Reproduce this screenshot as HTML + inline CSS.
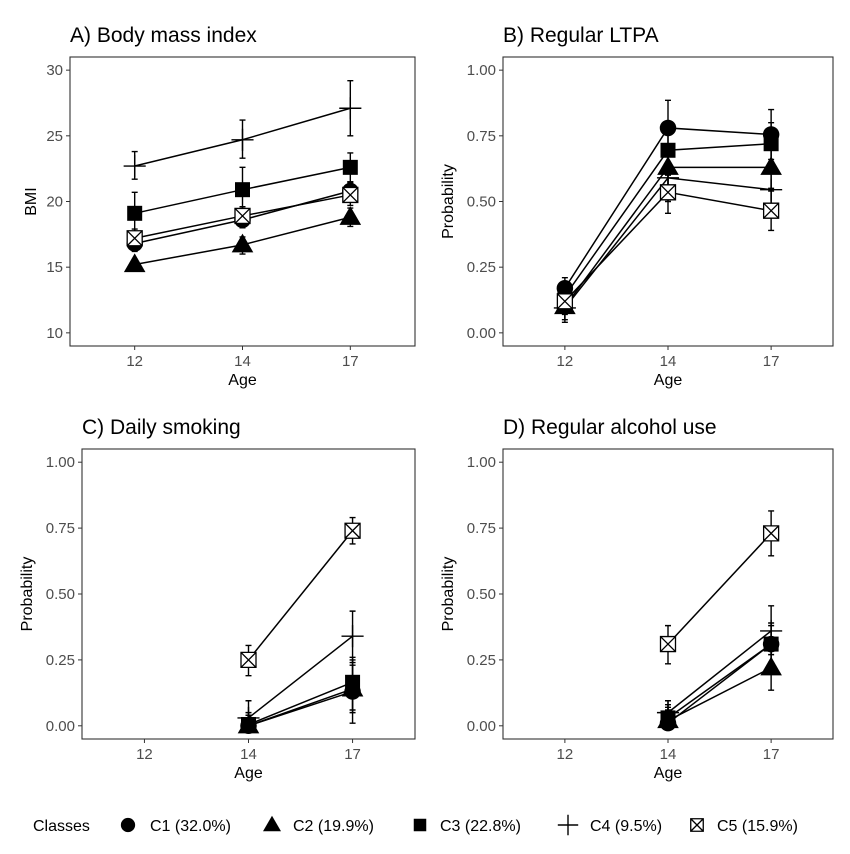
<!DOCTYPE html>
<html><head><meta charset="utf-8">
<style>
html,body{margin:0;padding:0;background:#fff;}
svg{display:block;font-family:"Liberation Sans",sans-serif;}
</style></head>
<body>
<svg id="chart" width="850" height="854" viewBox="0 0 850 854"></svg>
<script>
// ---- data ----
const ages = ["12","14","17"];
const classNames = ["C1 (32.0%)","C2 (19.9%)","C3 (22.8%)","C4 (9.5%)","C5 (15.9%)"];
const shapes = ["circle","triangle","square","plus","xsquare"];
// Panel A BMI
const bmiMean = [[16.8,18.6,20.8],[15.2,16.7,18.8],[19.1,20.9,22.6],[22.7,24.7,27.1],[17.2,18.9,20.5]];
const bmiLo = [[16.2,18.0,20.1],[14.8,16.0,18.1],[17.5,19.2,21.5],[21.7,23.3,25.0],[16.5,18.2,19.7]];
const bmiHi = [[17.4,19.2,21.5],[15.6,17.3,19.5],[20.7,22.6,23.7],[23.8,26.2,29.2],[17.9,19.6,21.4]];
// Panel B LTPA
const ltpaMean = [[0.17,0.78,0.755],[0.10,0.63,0.63],[0.14,0.695,0.72],[0.095,0.59,0.545],[0.12,0.535,0.465]];
const ltpaLo = [[0.13,0.68,0.66],[0.05,0.56,0.55],[0.09,0.60,0.63],[0.04,0.50,0.44],[0.07,0.455,0.39]];
const ltpaHi = [[0.21,0.885,0.85],[0.15,0.72,0.72],[0.19,0.78,0.80],[0.15,0.68,0.65],[0.18,0.61,0.54]];
// Panel C smoking (no age 12)
const smokeMean = [[null,0.00,0.13],[null,0.00,0.14],[null,0.005,0.165],[null,0.03,0.34],[null,0.25,0.74]];
const smokeLo = [[null,0,0.01],[null,0,0.05],[null,0,0.06],[null,0,0.24],[null,0.19,0.69]];
const smokeHi = [[null,0.04,0.25],[null,0.03,0.23],[null,0.05,0.26],[null,0.095,0.435],[null,0.305,0.79]];
// Panel D alcohol
const alcMean = [[null,0.01,0.31],[null,0.02,0.22],[null,0.03,0.31],[null,0.05,0.36],[null,0.31,0.73]];
const alcLo = [[null,0,0.24],[null,0,0.135],[null,0,0.24],[null,0,0.27],[null,0.235,0.645]];
const alcHi = [[null,0.06,0.39],[null,0.07,0.31],[null,0.08,0.38],[null,0.095,0.455],[null,0.38,0.815]];
const bmiTicks = [10,15,20,25,30];
const probTicks = [0,0.25,0.5,0.75,1];
const probLabels = ["0.00","0.25","0.50","0.75","1.00"];

const NS="http://www.w3.org/2000/svg";
const svg=document.getElementById('chart');
function el(tag,attrs,parent){const e=document.createElementNS(NS,tag);for(const k in attrs)e.setAttribute(k,attrs[k]);(parent||svg).appendChild(e);return e;}

function marker(g,shape,cx,cy,s){
  let m;
  if(shape==="circle"){m=el('circle',{cx,cy,r:s*0.55,fill:'#000'},g);}
  else if(shape==="triangle"){const h=s*1.2;m=el('polygon',{points:`${cx},${cy-h*0.62} ${cx-h*0.6},${cy+h*0.42} ${cx+h*0.6},${cy+h*0.42}`,fill:'#000'},g);}
  else if(shape==="square"){m=el('rect',{x:cx-s*0.5,y:cy-s*0.5,width:s,height:s,fill:'#000'},g);}
  else if(shape==="plus"){m=el('path',{d:`M${cx-s*0.85},${cy}H${cx+s*0.85}M${cx},${cy-s*0.85}V${cy+s*0.85}`,stroke:'#000','stroke-width':1.4,fill:'none'},g);}
  else {m=el('path',{d:`M${cx-s*0.5},${cy-s*0.5}h${s}v${s}h${-s}zM${cx-s*0.5},${cy-s*0.5}L${cx+s*0.5},${cy+s*0.5}M${cx+s*0.5},${cy-s*0.5}L${cx-s*0.5},${cy+s*0.5}`,stroke:'#000','stroke-width':1.3,fill:'#fff'},g);}
  return m;
}

function panel(opt){
  const {id,title,x0,x1,y0,y1,ymin,ymax,ticks,tickLabels,ylab,ylabOff,mean,lo,hi}=opt;
  const g=el('g',{});
  
  
  const unit=(x1-x0)/3.2;
  const xs=i=>x0+(0.6+i)*unit;
  const pad=(y1-y0)*0.0455;
  const ys=v=>(y1-pad)-(v-ymin)/(ymax-ymin)*((y1-pad)-(y0+pad));
  const t=el('text',{x:x0,y:y0-15,'font-size':21,fill:'#000'},g);t.textContent=title;
  
  el('rect',{x:x0,y:y0,width:x1-x0,height:y1-y0,fill:'#fff',stroke:'#333','stroke-width':1.1},g);
  ticks.forEach((v,i)=>{
    el('line',{x1:x0-4,x2:x0,y1:ys(v),y2:ys(v),stroke:'#333'},g);
    const tl=el('text',{x:x0-7,y:ys(v)+5,'font-size':15,fill:'#4d4d4d','text-anchor':'end'},g);
    tl.textContent=tickLabels[i];
    
  });
  ages.forEach((a,i)=>{
    el('line',{x1:xs(i),x2:xs(i),y1:y1,y2:y1+4,stroke:'#333'},g);
    const tl=el('text',{x:xs(i),y:y1+20,'font-size':15,fill:'#4d4d4d','text-anchor':'middle'},g);
    tl.textContent=a;
    
  });
  const xt=el('text',{x:(x0+x1)/2,y:y1+39,'font-size':16,fill:'#000','text-anchor':'middle'},g);
  xt.textContent='Age';
  const ycx=x0-ylabOff, ycy=(y0+y1)/2;
  const yt=el('text',{x:ycx,y:ycy,'font-size':16,fill:'#000','text-anchor':'middle',transform:`rotate(-90 ${ycx} ${ycy})`},g);
  yt.textContent=ylab;
  mean.forEach((ser,c)=>{
    const sg=el('g',{},g);
    
    
    let d='';
    ser.forEach((v,i)=>{if(v===null)return;d+=(d?'L':'M')+xs(i)+','+ys(v);});
    el('path',{d,stroke:'#000','stroke-width':1.5,fill:'none'},sg);
    ser.forEach((v,i)=>{
      if(v===null)return;
      const x=xs(i);
      el('path',{d:`M${x},${ys(lo[c][i])}V${ys(hi[c][i])}M${x-3},${ys(lo[c][i])}h6M${x-3},${ys(hi[c][i])}h6`,stroke:'#000','stroke-width':1.4,fill:'none'},sg);
    });
    ser.forEach((v,i)=>{
      if(v===null)return;
      const m=marker(sg,shapes[c],xs(i),ys(v),shapes[c]==="plus"?13:15);
      
      
    });
  });
}

panel({id:'panel-a-bmi',title:'A) Body mass index',x0:70,x1:415,y0:57,y1:346,ymin:10,ymax:30,ticks:bmiTicks,tickLabels:bmiTicks.map(String),ylab:'BMI',ylabOff:34,mean:bmiMean,lo:bmiLo,hi:bmiHi});
panel({id:'panel-b-ltpa',title:'B) Regular LTPA',x0:503,x1:833,y0:57,y1:346,ymin:0,ymax:1,ticks:probTicks,tickLabels:probLabels,ylab:'Probability',ylabOff:50,mean:ltpaMean,lo:ltpaLo,hi:ltpaHi});
panel({id:'panel-c-smoking',title:'C) Daily smoking',x0:82,x1:415,y0:449,y1:739,ymin:0,ymax:1,ticks:probTicks,tickLabels:probLabels,ylab:'Probability',ylabOff:50,mean:smokeMean,lo:smokeLo,hi:smokeHi});
panel({id:'panel-d-alcohol',title:'D) Regular alcohol use',x0:503,x1:833,y0:449,y1:739,ymin:0,ymax:1,ticks:probTicks,tickLabels:probLabels,ylab:'Probability',ylabOff:50,mean:alcMean,lo:alcLo,hi:alcHi});

// legend
const lg=el('g',{});


const lt=el('text',{x:33,y:831,'font-size':16,fill:'#000'},lg);lt.textContent='Classes';

const keyX=[128,272,420,568,697];
const txtX=[150,293,440,590,717];
classNames.forEach((n,i)=>{
  const eg=el('g',{},lg);
  
  
  marker(eg,shapes[i],keyX[i],825,shapes[i]==="plus"?12:(shapes[i]==="circle"?13:12.5));
  const t=el('text',{x:txtX[i],y:831,'font-size':16,fill:'#000'},eg);t.textContent=n;
});
</script>
</body></html>
